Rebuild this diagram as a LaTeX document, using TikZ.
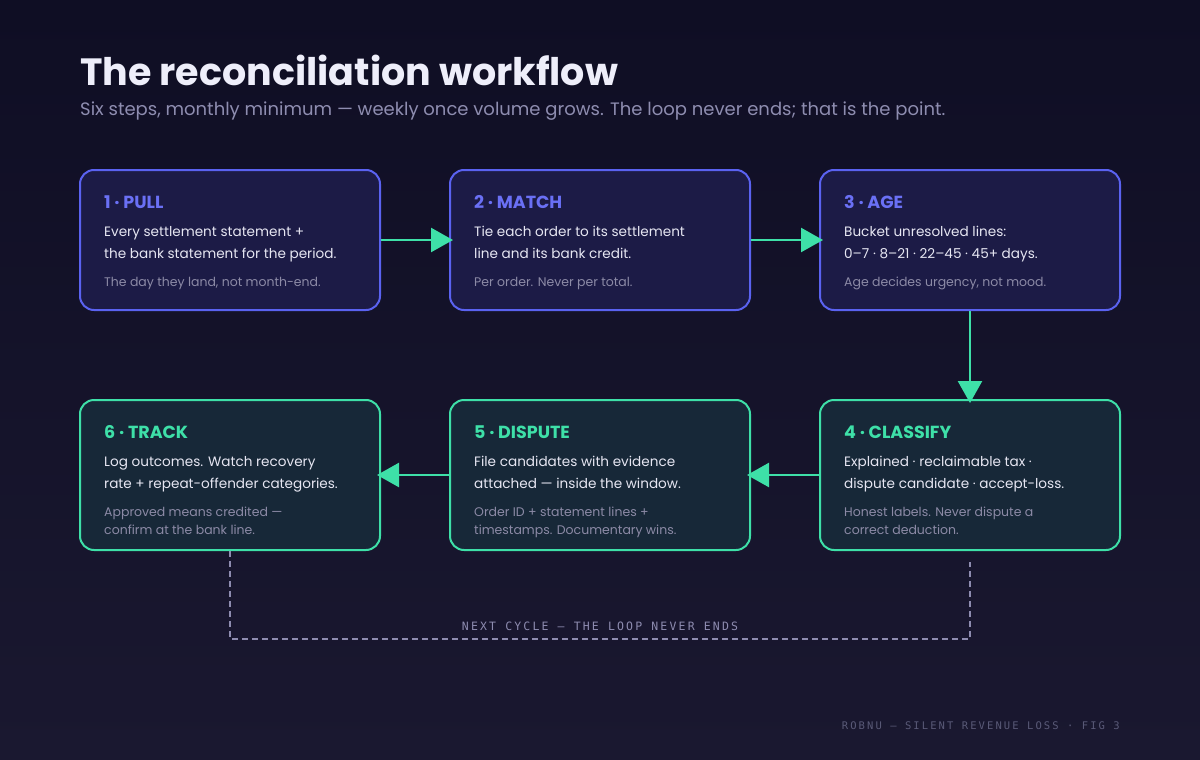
\documentclass[tikz,border=0pt]{standalone}
\usepackage{fontspec}
\setmainfont{Poppins}
\newfontfamily\loopfont[LetterSpace=19]{DejaVu Sans Mono}
\newfontfamily\footfont[LetterSpace=20]{DejaVu Sans Mono}
\usepackage{tikz}
\usetikzlibrary{arrows.meta,positioning}
\usepackage{xcolor}

\definecolor{bgtop}{HTML}{0F0E24}
\definecolor{bgbottom}{HTML}{1A1830}
\definecolor{indigoline}{HTML}{5A62F0}
\definecolor{indigofill}{HTML}{1C1B46}
\definecolor{indigohead}{HTML}{6A70F5}
\definecolor{tealline}{HTML}{3EE0A8}
\definecolor{tealfill}{HTML}{172838}
\definecolor{bodytext}{HTML}{E6E6F2}
\definecolor{notetext}{HTML}{8C8AA6}
\definecolor{titletext}{HTML}{EEEEFA}
\definecolor{subtext}{HTML}{8E8DB0}
\definecolor{loopgray}{HTML}{8E8CB0}
\definecolor{footgray}{HTML}{5A5A78}

\tikzset{
  stepbox/.style={rectangle, rounded corners=14pt, line width=2pt, minimum width=300pt, minimum height=140pt},
  upper/.style={stepbox, draw=indigoline, fill=indigofill},
  lower/.style={stepbox, draw=tealline, fill=tealfill, minimum height=150pt},
  head/.style={anchor=west, inner sep=0pt, font=\fontsize{17.5}{20}\selectfont\bfseries},
  body/.style={anchor=north west, inner sep=0pt, align=left, text=bodytext, font=\fontsize{13.6}{22}\selectfont},
  note/.style={anchor=north west, inner sep=0pt, align=left, text=notetext, font=\fontsize{12.5}{18}\selectfont},
  flow/.style={draw=tealline, line width=2.5pt, -{Triangle[length=22pt,width=24pt]}, shorten >=-4pt},
  loopline/.style={draw=loopgray, line width=1.5pt, dash pattern=on 6pt off 4pt}
}

\begin{document}
\begin{tikzpicture}[x=1pt, y=-1pt]
\shade [top color=bgtop, bottom color=bgbottom] (0,0) rectangle (1200,760);
\useasboundingbox (0,0) rectangle (1200,760);

% title
\node [anchor=west, inner sep=0pt, text=titletext, font=\fontsize{38}{44}\selectfont\bfseries] (title) at (80,70) {The reconciliation workflow};
\node [anchor=west, inner sep=0pt, text=subtext, font=\fontsize{18}{22}\selectfont] (subtitle) at (80,111) {Six steps, monthly minimum — weekly once volume grows. The loop never ends; that is the point.};

% top row
\node [upper] (pull) at (230,240) {};
\node [upper] (match) at (600,240) {};
\node [upper] (age) at (970,240) {};

\node [head, text=indigohead] (pullhead) at (104,202) {1 · PULL};
\node [body] (pullbody) at (104,226) {Every settlement statement +\\the bank statement for the period.};
\node [note] (pullnote) at (104,277) {The day they land, not month-end.};

\node [head, text=indigohead] (matchhead) at (474,202) {2 · MATCH};
\node [body] (matchbody) at (474,226) {Tie each order to its settlement\\line and its bank credit.};
\node [note] (matchnote) at (474,277) {Per order. Never per total.};

\node [head, text=indigohead] (agehead) at (844,202) {3 · AGE};
\node [body] (agebody) at (844,226) {Bucket unresolved lines:\\0–7 · 8–21 · 22–45 · 45+ days.};
\node [note] (agenote) at (844,277) {Age decides urgency, not mood.};

% bottom row
\node [lower] (track) at (230,475) {};
\node [lower] (dispute) at (600,475) {};
\node [lower] (classify) at (970,475) {};

\node [head, text=tealline] (classifyhead) at (844,432) {4 · CLASSIFY};
\node [body] (classifybody) at (844,456) {Explained · reclaimable tax ·\\dispute candidate · accept-loss.};
\node [note] (classifynote) at (844,507) {Honest labels. Never dispute a\\correct deduction.};

\node [head, text=tealline] (disputehead) at (474,432) {5 · DISPUTE};
\node [body] (disputebody) at (474,456) {File candidates with evidence\\attached — inside the window.};
\node [note] (disputenote) at (474,507) {Order ID + statement lines +\\timestamps. Documentary wins.};

\node [head, text=tealline] (trackhead) at (104,432) {6 · TRACK};
\node [body] (trackbody) at (104,456) {Log outcomes. Watch recovery\\rate + repeat-offender categories.};
\node [note] (tracknote) at (104,507) {Approved means credited —\\confirm at the bank line.};

% connectors
\draw [flow] (pull) -- (match);
\draw [flow] (match) -- (age);
\draw [flow] (age) -- (classify);
\draw [flow] (classify) -- (dispute);
\draw [flow] (dispute) -- (track);

% loop back
\coordinate (loopend) at (970,562);
\draw [loopline] (track.south) -- ++(0,88) -| (loopend);
\node [text=loopgray, font=\fontsize{11.5}{13}\selectfont\loopfont] (nextcycle) at (600,626) {NEXT CYCLE — THE LOOP NEVER ENDS};

% footer
\node [anchor=east, inner sep=0pt, text=footgray, font=\fontsize{10.5}{12}\selectfont\footfont] (footer) at (1120,726) {ROBNU — SILENT REVENUE LOSS · FIG 3};
\end{tikzpicture}
\end{document}
